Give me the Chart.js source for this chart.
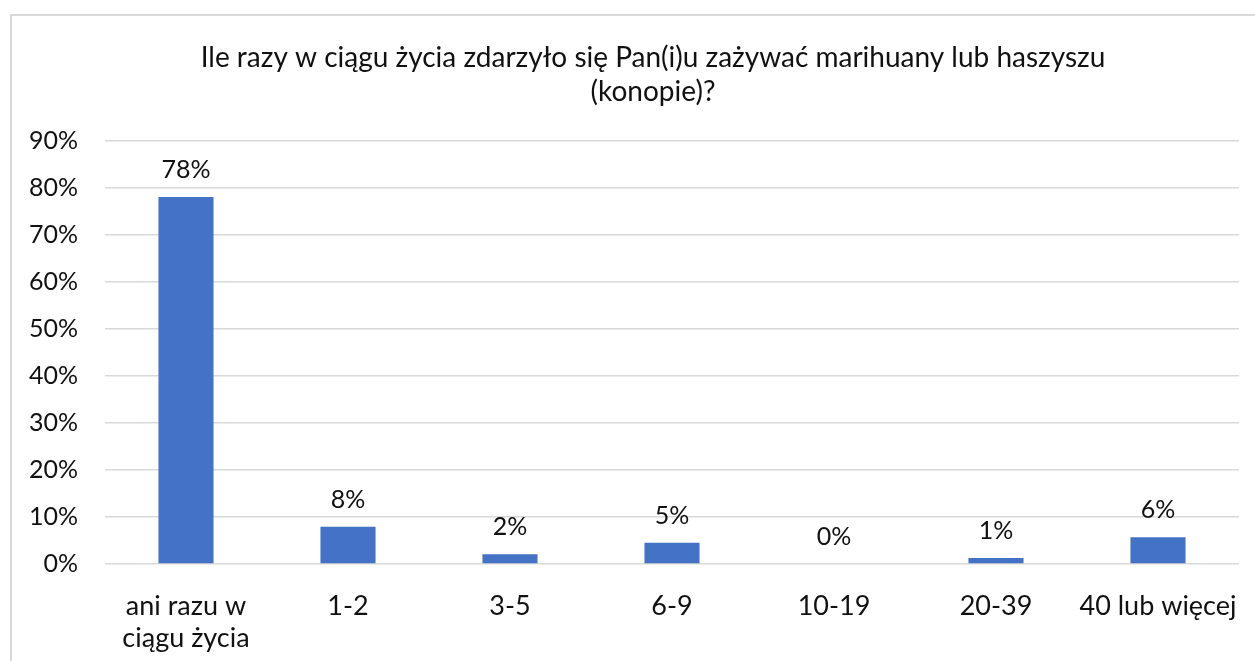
<!DOCTYPE html>
<html>
<head>
<meta charset="utf-8">
<script src="https://cdn.jsdelivr.net/npm/chart.js@4"></script>
<style>
html,body{margin:0;padding:0;background:#fff;}
#wrap{position:relative;width:1255px;height:661px;overflow:hidden;}
#frame{position:absolute;left:10px;top:14px;width:1300px;height:700px;border-left:2px solid #d9d9d9;border-top:2px solid #d9d9d9;pointer-events:none;}
canvas{position:absolute;left:0;top:0;}
</style>
</head>
<body>
<div id="wrap">
<canvas id="c" width="1255" height="661"></canvas>
<div id="frame"></div>
</div>
<script>
const titleLines = ["Ile razy w ciągu życia zdarzyło się Pan(i)u zażywać marihuany lub haszyszu", "(konopie)?"];
const categories = [["ani razu w", "ciągu życia"], "1-2", "3-5", "6-9", "10-19", "20-39", "40 lub więcej"];
const values = [78.1, 7.9, 2.1, 4.5, 0, 1.3, 5.7];
const valueLabels = ["78%", "8%", "2%", "5%", "0%", "1%", "6%"];
const yTicksMax = 90;

const FONT = "Lato, 'Open Sans', sans-serif";

const labelPlugin = {
  id: 'vlabels',
  afterDatasetsDraw(chart) {
    const ctx = chart.ctx;
    const meta = chart.getDatasetMeta(0);
    ctx.save();
    ctx.font = "25px " + FONT;
    ctx.fillStyle = "#111";
    ctx.textAlign = "center";
    ctx.textBaseline = "middle";
    meta.data.forEach((bar, i) => {
      ctx.fillText(valueLabels[i], bar.x, bar.y - 27);
    });
    ctx.restore();
  }
};

// Title drawn centred on the (wider) chart frame, as in the original
const titlePlugin = {
  id: 'frameTitle',
  afterDraw(chart) {
    const ctx = chart.ctx;
    ctx.save();
    ctx.font = "28px " + FONT;
    ctx.fillStyle = "#111";
    ctx.textAlign = "center";
    ctx.textBaseline = "middle";
    titleLines.forEach((t, i) => ctx.fillText(t, 653, 58 + i * 34));
    ctx.restore();
  }
};

new Chart(document.getElementById('c'), {
  type: 'bar',
  data: {
    labels: categories,
    datasets: [{
      data: values,
      backgroundColor: '#4472C4',
      barPercentage: 0.34,
      categoryPercentage: 1.0
    }]
  },
  options: {
    responsive: false,
    animation: false,
    layout: { padding: { top: 141, left: 0, right: 16, bottom: 0 } },
    plugins: {
      legend: { display: false },
      tooltip: { enabled: false },
      title: { display: false }
    },
    scales: {
      y: {
        afterFit: s => { s.width = 105; s.paddingTop = 0; s.paddingBottom = 0; },
        min: 0,
        max: yTicksMax,
        ticks: {
          stepSize: 10,
          color: '#111',
          font: { family: FONT, size: 25 },
          padding: 27,
          callback: v => v + '%'
        },
        grid: { color: '#d9d9d9', lineWidth: 1.5, drawTicks: false },
        border: { display: false }
      },
      x: {
        afterFit: s => { s.height = 97; s.paddingLeft = 0; s.paddingRight = 0; },
        ticks: {
          color: '#111',
          font: { family: FONT, size: 27, lineHeight: 32/27 },
          padding: 26,
          maxRotation: 0,
          autoSkip: false
        },
        grid: { display: false, drawTicks: false },
        border: { display: false }
      }
    }
  },
  plugins: [labelPlugin, titlePlugin]
});
</script>
</body>
</html>
